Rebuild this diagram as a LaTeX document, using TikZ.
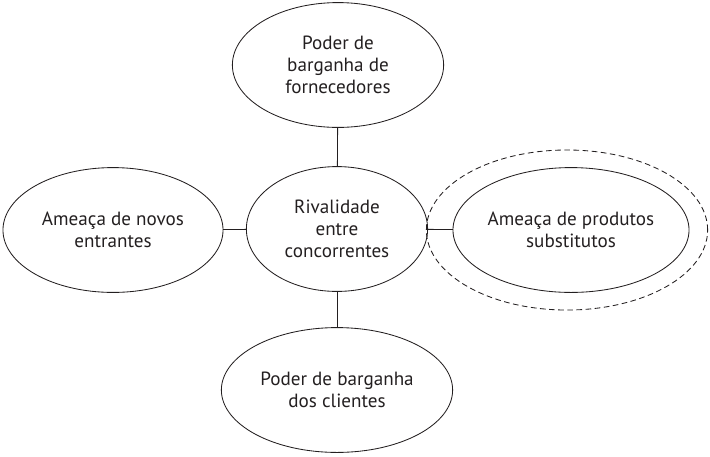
\documentclass[tikz,border=0pt]{standalone}
\usepackage{fontspec}
\setmainfont{PT Sans}
\usepackage{tikz}
\usetikzlibrary{shapes.geometric}
\definecolor{inkgray}{HTML}{231F20}

\begin{document}
\begin{tikzpicture}[
        x=0.025cm, y=-0.025cm,
        font=\fontsize{13.6}{15.8}\selectfont,
        every node/.style={align=center, text=inkgray},
        force/.style={ellipse, draw=inkgray, line width=0.6pt,
                      inner sep=0pt, outer sep=0pt,
                      minimum height=3.12cm},
        halo/.style={ellipse, draw=inkgray, line width=0.6pt, dashed,
                     dash pattern=on 4pt off 2.5pt,
                     inner sep=0pt, outer sep=0pt},
        link/.style={draw=inkgray, line width=0.6pt}
    ]
        \useasboundingbox (0,0) rectangle (710,456);

        % --- Forca central ---
        \node[force, minimum width=4.53cm] (rival) at (337,229)
            {Rivalidade\\entre\\concorrentes};

        % --- Forcas ao redor ---
        \node[force, minimum width=5.28cm] (forn) at (338,65)
            {Poder de\\barganha de\\fornecedores};
        \node[force, minimum width=5.5cm] (entr) at (113,230)
            {Amea\c{c}a de novos\\entrantes};
        \node[force, minimum width=5.9cm] (subs) at (571,230)
            {Amea\c{c}a de produtos\\substitutos};
        \node[force, minimum width=5.78cm] (clie) at (337,390)
            {Poder de barganha\\dos clientes};

        % --- Destaque tracejado ---
        \node[halo, minimum width=7.03cm, minimum height=4cm] (destaque)
            at (567,230) {};

        % --- Ligacoes ---
        \draw[link] (forn) -- (rival);
        \draw[link] (entr) -- (rival);
        \draw[link] (rival) -- (subs);
        \draw[link] (rival) -- (clie);
    \end{tikzpicture}
\end{document}
